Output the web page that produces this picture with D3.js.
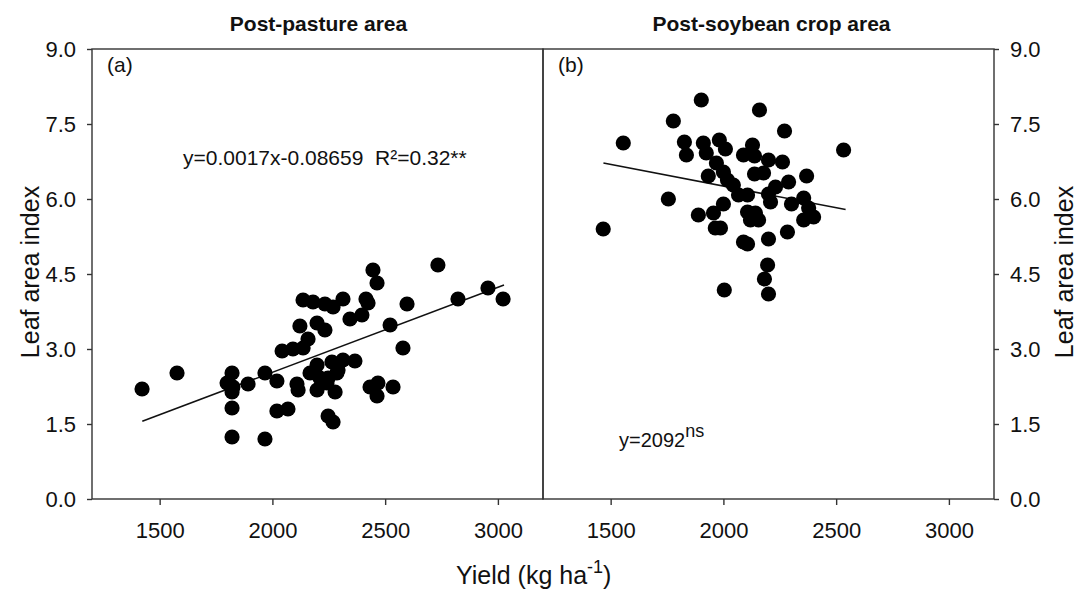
<!DOCTYPE html>
<html>
<head>
<meta charset="utf-8">
<script src="https://cdn.jsdelivr.net/npm/d3@7"></script>
<style>
  html, body { margin: 0; padding: 0; background: #fff; }
  svg { display: block; font-family: "Liberation Sans", Arial, sans-serif; }
</style>
</head>
<body>
<svg id="chart" width="1084" height="589"></svg>
<script>
// Post-pasture area: yield (kg/ha) and leaf area index
const pastureYield = [1422, 1577, 1821, 1799, 1825, 1821, 1821, 1821, 1892, 1967,
  1967, 2020, 2020, 2069, 2109, 2114, 2043, 2091, 2136, 2158,
  2122, 2198, 2233, 2136, 2180, 2233, 2269, 2313, 2344, 2397,
  2415, 2424, 2446, 2464, 2522, 2579, 2597, 2734, 2823, 2956,
  3023, 2167, 2198, 2211, 2198, 2247, 2264, 2291, 2313, 2366,
  2242, 2278, 2247, 2269, 2220, 2433, 2468, 2464, 2535, 2286];
const pastureLAI = [2.20, 2.52, 2.52, 2.32, 2.24, 2.14, 1.82, 1.24, 2.30, 2.52,
  1.20, 2.36, 1.76, 1.80, 2.30, 2.18, 2.96, 3.00, 3.02, 3.20,
  3.46, 3.52, 3.38, 3.98, 3.94, 3.90, 3.84, 4.00, 3.60, 3.68,
  4.00, 3.92, 4.58, 4.32, 3.48, 3.02, 3.90, 4.68, 4.00, 4.22,
  4.00, 2.52, 2.68, 2.42, 2.18, 2.42, 2.74, 2.58, 2.78, 2.76,
  2.32, 2.14, 1.66, 1.54, 2.34, 2.24, 2.32, 2.06, 2.24, 2.52];

// Post-soybean crop area: yield (kg/ha) and leaf area index
const soyYield = [1467, 1556, 1756, 1778, 1902, 2160, 2271, 1827, 1836, 1911,
  1924, 1982, 2009, 1969, 1933, 2000, 2018, 2044, 2067, 2107,
  2129, 2089, 2138, 2200, 2262, 2138, 2178, 2231, 2200, 2209,
  2289, 2302, 2356, 2369, 2356, 2400, 2378, 2533, 2000, 1956,
  1889, 1964, 1987, 2107, 2142, 2120, 2156, 2089, 2107, 2200,
  2284, 2196, 2182, 2004, 2200];
const soyLAI = [5.40, 7.12, 6.00, 7.56, 7.98, 7.78, 7.36, 7.14, 6.88, 7.12,
  6.92, 7.18, 7.00, 6.72, 6.46, 6.54, 6.38, 6.28, 6.08, 6.08,
  7.08, 6.88, 6.86, 6.78, 6.74, 6.50, 6.52, 6.24, 6.10, 5.94,
  6.34, 5.90, 6.02, 6.46, 5.58, 5.64, 5.82, 6.98, 5.90, 5.72,
  5.68, 5.42, 5.42, 5.74, 5.72, 5.58, 5.58, 5.14, 5.10, 5.20,
  5.34, 4.68, 4.40, 4.18, 4.10];

// Fitted lines: pasture from slope/intercept over its yield range, soybean from endpoints
const pastureFit = { slope: 0.0017, intercept: -0.8659, xRange: [1423, 3027] };
const soyFitX = [1468, 2542];
const soyFitY = [6.72, 5.79];

const xTicks = [1500, 2000, 2500, 3000];
const yTicks = [0, 1.5, 3, 4.5, 6, 7.5, 9];
const panelTitles = ["Post-pasture area", "Post-soybean crop area"];
const panelTags = ["(a)", "(b)"];

const svg = d3.select("#chart");
const plotTop = 49, plotBottom = 499;
const panels = [
  { left: 92, right: 543 },
  { left: 543, right: 994 }
];

const y = d3.scaleLinear().domain([0, 9]).range([plotBottom, plotTop]);
const fmt = d3.format(".1f");
const frameColor = "#333";
const ink = "#111";

panels.forEach((p, i) => {
  const x = d3.scaleLinear().domain([1200, 3200]).range([p.left, p.right]);
  const g = svg.append("g");

  // frame
  g.append("rect")
    .attr("x", p.left).attr("y", plotTop)
    .attr("width", p.right - p.left).attr("height", plotBottom - plotTop)
    .attr("fill", "none").attr("stroke", frameColor).attr("stroke-width", 1.4);

  // x axis
  const xa = g.append("g").attr("transform", `translate(0,${plotBottom})`)
    .call(d3.axisBottom(x).tickValues(xTicks).tickSize(6).tickPadding(17).tickFormat(d3.format("d")));
  xa.select(".domain").remove();
  xa.selectAll("line").attr("stroke", frameColor).attr("stroke-width", 1.4);
  xa.selectAll("text").attr("font-size", 22).attr("fill", ink)
    .attr("font-family", "Liberation Sans, Arial, sans-serif");

  // y axis (left for panel a, right for panel b)
  const yAxis = i === 0 ? d3.axisLeft(y) : d3.axisRight(y);
  const ya = g.append("g").attr("transform", `translate(${i === 0 ? p.left : p.right},0)`)
    .call(yAxis.tickValues(yTicks).tickSize(5).tickPadding(11).tickFormat(fmt));
  ya.select(".domain").remove();
  ya.selectAll("line").attr("stroke", frameColor).attr("stroke-width", 1.4);
  ya.selectAll("text").attr("font-size", 22).attr("fill", ink)
    .attr("font-family", "Liberation Sans, Arial, sans-serif");

  // title and panel tag
  g.append("text").attr("x", (p.left + p.right) / 2 + (i === 0 ? 1 : 3)).attr("y", 31)
    .attr("text-anchor", "middle").attr("font-weight", "bold").attr("font-size", 21)
    .attr("fill", ink).text(panelTitles[i]);
  g.append("text").attr("x", p.left + 15).attr("y", 72)
    .attr("font-size", 21).attr("fill", ink).text(panelTags[i]);

  const xs = i === 0 ? pastureYield : soyYield;
  const ys = i === 0 ? pastureLAI : soyLAI;

  // fitted line
  let lineData;
  if (i === 0) {
    lineData = pastureFit.xRange.map(v => [v, pastureFit.slope * v + pastureFit.intercept]);
  } else {
    lineData = soyFitX.map((v, k) => [v, soyFitY[k]]);
  }
  g.append("path")
    .attr("d", d3.line().x(d => x(d[0])).y(d => y(d[1]))(lineData))
    .attr("stroke", ink).attr("stroke-width", 1.6).attr("fill", "none");

  // points
  g.selectAll("circle.pt").data(xs.map((v, k) => [v, ys[k]])).join("circle")
    .attr("class", "pt")
    .attr("cx", d => x(d[0])).attr("cy", d => y(d[1])).attr("r", 7.6)
    .attr("fill", "#000");
});

// annotations
svg.append("text").attr("x", 183).attr("y", 165)
  .attr("font-size", 21).attr("fill", ink)
  .style("white-space", "pre")
  .text("y=0.0017x-0.08659  R²=0.32**");

const ann = svg.append("text").attr("x", 619).attr("y", 447)
  .attr("font-size", 20).attr("fill", ink);
ann.append("tspan").text("y=2092");
ann.append("tspan").attr("dy", -10).attr("font-size", 18).text("ns");

// axis titles
svg.append("text").attr("transform", "translate(39,272) rotate(-90)")
  .attr("text-anchor", "middle").attr("font-size", 25).attr("fill", ink)
  .text("Leaf area index");
svg.append("text").attr("transform", "translate(1073,272) rotate(-90)")
  .attr("text-anchor", "middle").attr("font-size", 25).attr("fill", ink)
  .text("Leaf area index");

const xt = svg.append("text").attr("x", 456).attr("y", 584)
  .attr("font-size", 25).attr("fill", ink);
xt.append("tspan").text("Yield (kg ha");
xt.append("tspan").attr("dy", -11).attr("font-size", 18).text("-1");
xt.append("tspan").attr("dy", 11).text(")");
</script>
</body>
</html>
